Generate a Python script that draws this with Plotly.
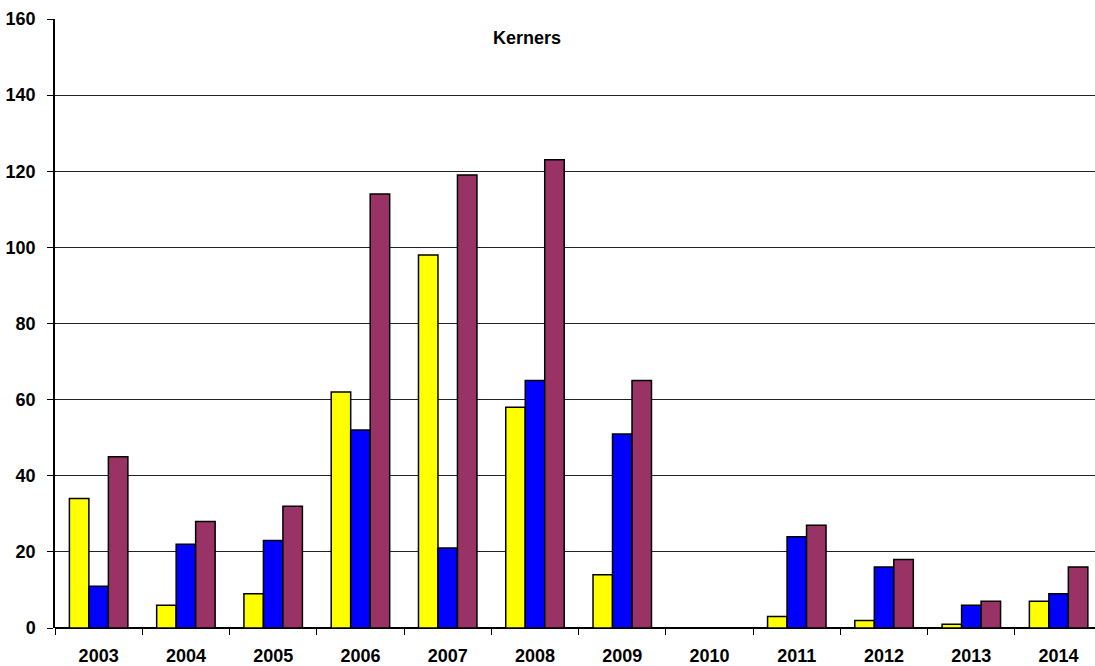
import plotly.graph_objects as go

years = ["2003", "2004", "2005", "2006", "2007", "2008", "2009", "2010", "2011", "2012", "2013", "2014"]
series_yellow = [34, 6, 9, 62, 98, 58, 14, 0, 3, 2, 1, 7]
series_blue = [11, 22, 23, 52, 21, 65, 51, 0, 24, 16, 6, 9]
series_purple = [45, 28, 32, 114, 119, 123, 65, 0, 27, 18, 7, 16]
y_ticks = [0, 20, 40, 60, 80, 100, 120, 140, 160]

positions = list(range(len(years)))
font = dict(family="Liberation Sans, Arial, sans-serif", size=18, color="black")

fig = go.Figure()
for vals, color in [(series_yellow, "#FFFF00"), (series_blue, "#0000FF"), (series_purple, "#993366")]:
    fig.add_trace(go.Bar(
        x=positions, y=vals,
        marker=dict(color=color, line=dict(color="black", width=1.5)),
        showlegend=False,
    ))

plot_left, plot_top, plot_w, plot_h = 55, 19, 1040, 609

fig.update_layout(
    width=1095, height=666,
    margin=dict(l=plot_left, r=0, t=plot_top, b=666 - plot_top - plot_h),
    paper_bgcolor="white", plot_bgcolor="white",
    barmode="group", bargap=0.33, bargroupgap=0,
    font=font,
    annotations=[dict(
        text="<b>Kerners</b>",
        xref="paper", x=(527 - plot_left) / plot_w,
        yref="paper", y=1 - (38 - plot_top) / plot_h, yanchor="middle",
        showarrow=False, font=font,
    )],
)

fig.update_xaxes(
    range=[-0.5, -0.5 + plot_w / 87.27],
    tickvals=positions, ticktext=[f"<b>{y}</b>" for y in years],
    ticks="", showgrid=False, showline=False, zeroline=False,
    ticklabelstandoff=15,
    minor=dict(tickvals=[p + 0.5 for p in positions[:-1]] + [-0.5], ticks="outside",
               ticklen=6, tickcolor="black", tickwidth=1, showgrid=False),
    tickfont=font,
)
fig.update_yaxes(
    range=[0, 160], tickvals=y_ticks, ticktext=[f"<b>{t}</b>" for t in y_ticks],
    showgrid=True, gridcolor="#222222", gridwidth=1,
    showline=True, linecolor="black", linewidth=1.5,
    ticks="outside", ticklen=6, tickcolor="black",
    zeroline=True, zerolinecolor="black", zerolinewidth=1.5,
    tickfont=font, ticklabelstandoff=8,
)

fig.write_html("out.html")
